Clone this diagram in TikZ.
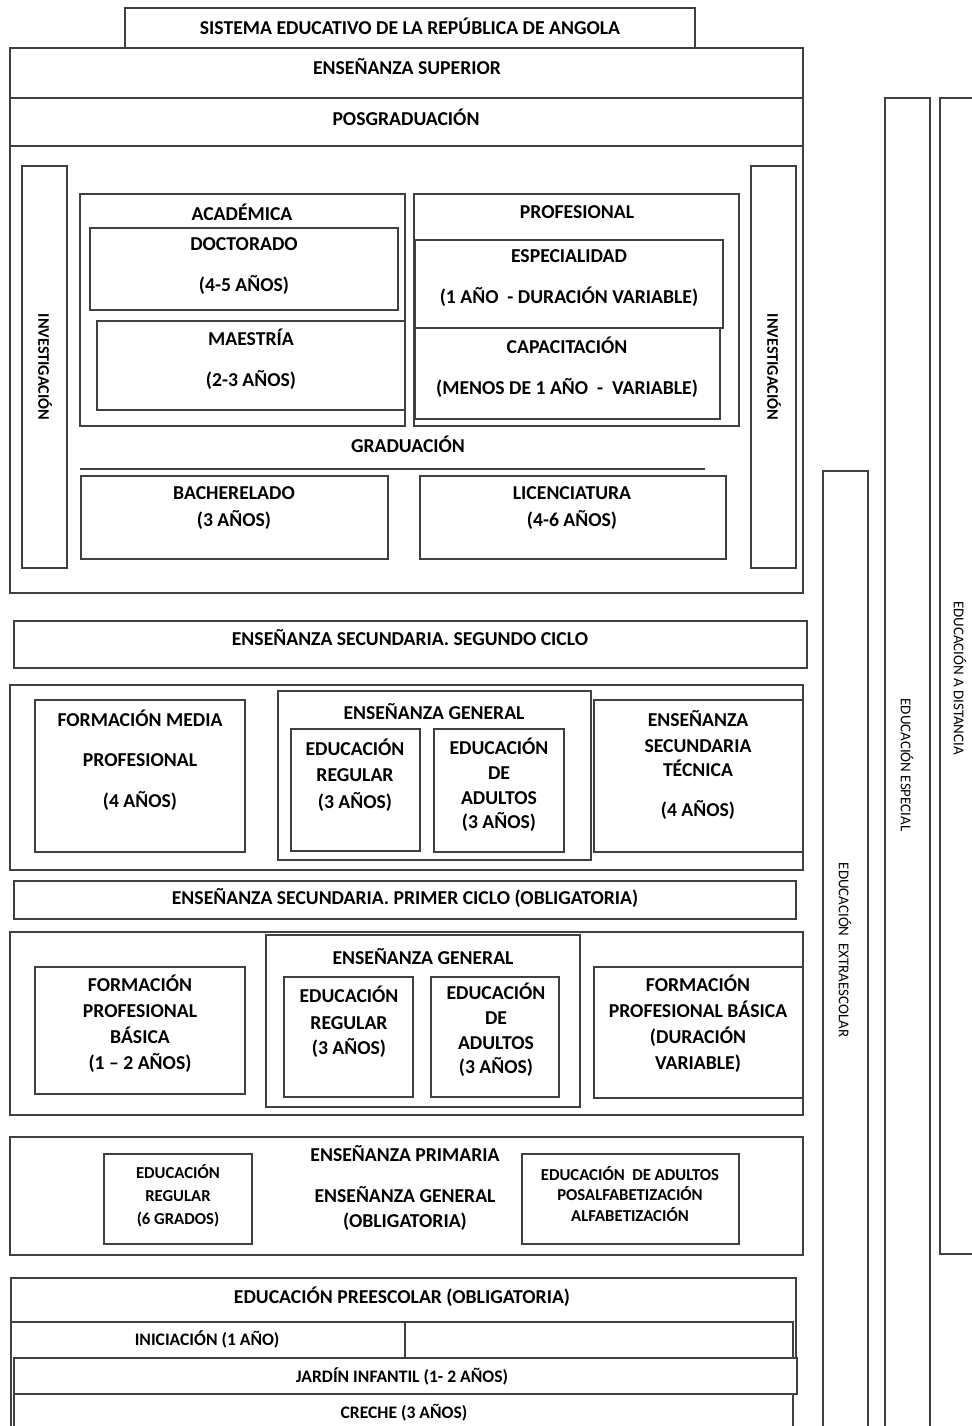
\documentclass[tikz,border=0pt]{standalone}
\usepackage{fontspec}
\setmainfont{Carlito}

\begin{document}
\begin{tikzpicture}[
    x=0.02cm, y=-0.02cm,
    box/.style={draw=black!75, line width=0.75pt},
    txt/.style={font=\bfseries\fontsize{11.2}{13}\selectfont, align=center, inner sep=0pt},
    smalltxt/.style={font=\bfseries\fontsize{9.5}{11}\selectfont, align=center, inner sep=0pt},
    rowtxt/.style={font=\bfseries\fontsize{10}{12}\selectfont, inner sep=0pt},
    vtxt/.style={font=\bfseries\fontsize{9.2}{11}\selectfont, rotate=-90, inner sep=0pt},
    sidetxt/.style={font=\fontsize{8.5}{10}\selectfont, rotate=-90, inner sep=0pt}
]
\useasboundingbox (0,0) rectangle (972,1426);

% Enseñanza superior
\draw[box] (125,8) rectangle (695,48);
\draw[box] (10,48) rectangle (803,98);
\draw[box] (10,98) rectangle (803,146);
\draw[box] (10,146) rectangle (803,593);
\draw[box] (22,166) rectangle (67,568);
\draw[box] (751,166) rectangle (796,568);
\draw[box] (80,194) rectangle (405,426);
\draw[box] (90,228) rectangle (398,310);
\draw[box] (97,321) rectangle (405,410);
\draw[box] (414,194) rectangle (739,426);
\draw[box] (415,240) rectangle (723,328);
\draw[box] (415,328) rectangle (720,419);
\draw[box] (80,469) -- (705,469);
\draw[box] (81,476) rectangle (388,559);
\draw[box] (420,476) rectangle (726,559);

\node[txt] (sistema) at (410,26) {SISTEMA EDUCATIVO DE LA REPÚBLICA DE ANGOLA};
\node[txt] (superior) at (407,67) {ENSEÑANZA SUPERIOR};
\node[txt] (posgrado) at (406,117) {POSGRADUACIÓN};
\node[vtxt] (invizq) at (45,367) {INVESTIGACIÓN};
\node[vtxt] (invder) at (774,367) {INVESTIGACIÓN};
\node[txt] (academica) at (242,212) {ACADÉMICA};
\node[txt] (profesional) at (577,212) {PROFESIONAL};
\node[txt] (doctorado) at (244,266) {DOCTORADO\\[10.2pt](4-5 AÑOS)};
\node[txt] (maestria) at (251,359) {MAESTRÍA\\[10.2pt](2-3 AÑOS)};
\node[txt] (especialidad) at (569,278) {ESPECIALIDAD\\[10.2pt](1 AÑO \ - DURACIÓN VARIABLE)};
\node[txt] (capacitacion) at (567,367) {CAPACITACIÓN\\[10.2pt](MENOS DE 1 AÑO \ - \ VARIABLE)};
\node[txt] (graduacion) at (408,444) {GRADUACIÓN};
\node[txt] (bacharelado) at (234,508) {BACHERELADO\\[2.3pt](3 AÑOS)};
\node[txt] (licenciatura) at (572,508) {LICENCIATURA\\[2.3pt](4-6 AÑOS)};

% Enseñanza secundaria, segundo ciclo
\draw[box] (14,621) rectangle (807,668);
\draw[box] (10,685) rectangle (803,870);
\draw[box] (35,700) rectangle (245,852);
\draw[box] (278,691) rectangle (591,860);
\draw[box] (291,729) rectangle (420,851);
\draw[box] (434,729) rectangle (564,852);
\draw[box] (594,700) rectangle (803,852);

\node[txt] (segundo) at (410,638) {ENSEÑANZA SECUNDARIA. SEGUNDO CICLO};
\node[txt] (mediaprof) at (140,760) {FORMACIÓN MEDIA\\[10.2pt]PROFESIONAL\\[10.2pt](4 AÑOS)};
\node[txt] (general2) at (434,712) {ENSEÑANZA GENERAL};
\node[txt] (regular2) at (355,775) {EDUCACIÓN\\[2pt]REGULAR\\[2pt](3 AÑOS)};
\node[txt] (adultos2) at (499,785) {EDUCACIÓN\\[1pt]DE\\[1pt]ADULTOS\\[1pt](3 AÑOS)};
\node[txt] (tecnica) at (698,765) {ENSEÑANZA\\[1.7pt]SECUNDARIA\\[0.6pt]TÉCNICA\\[10.2pt](4 AÑOS)};

% Enseñanza secundaria, primer ciclo
\draw[box] (14,881) rectangle (796,919);
\draw[box] (10,932) rectangle (803,1115);
\draw[box] (35,967) rectangle (245,1094);
\draw[box] (266,935) rectangle (580,1107);
\draw[box] (284,977) rectangle (413,1097);
\draw[box] (431,977) rectangle (559,1097);
\draw[box] (594,967) rectangle (803,1098);

\node[txt] (primer) at (405,898) {ENSEÑANZA SECUNDARIA. PRIMER CICLO (OBLIGATORIA)};
\node[txt] (basica1) at (140,1024) {FORMACIÓN\\[1.8pt]PROFESIONAL\\[1.8pt]BÁSICA\\[1.8pt](1 – 2 AÑOS)};
\node[txt] (general1) at (423,957) {ENSEÑANZA GENERAL};
\node[txt] (regular1) at (349,1022) {EDUCACIÓN\\[2.3pt]REGULAR\\[1.2pt](3 AÑOS)};
\node[txt] (adultos1) at (496,1030) {EDUCACIÓN\\[1pt]DE\\[1pt]ADULTOS\\[1pt](3 AÑOS)};
\node[txt] (basica2) at (698,1024) {FORMACIÓN\\[1.8pt]PROFESIONAL BÁSICA\\[1.8pt](DURACIÓN\\[1.8pt]VARIABLE)};

% Enseñanza primaria
\draw[box] (10,1137) rectangle (803,1255);
\draw[box] (104,1154) rectangle (252,1244);
\draw[box] (522,1154) rectangle (739,1244);

\node[txt] (primaria) at (405,1154) {ENSEÑANZA PRIMARIA};
\node[txt] (generalp) at (405,1208) {ENSEÑANZA GENERAL\\[1.2pt](OBLIGATORIA)};
\node[smalltxt] (regularp) at (178,1196) {EDUCACIÓN\\[2pt]REGULAR\\[2pt](6 GRADOS)};
\node[smalltxt] (adultosp) at (630,1194) {EDUCACIÓN \ DE ADULTOS\\[0.9pt]POSALFABETIZACIÓN\\[0.9pt]ALFABETIZACIÓN};

% Educación preescolar
\draw[box] (11,1426) -- (11,1278) -- (796,1278) -- (796,1358);
\draw[box] (11,1322) -- (793,1322) -- (793,1358);
\draw[box] (405,1322) -- (405,1358);
\draw[box] (14,1358) rectangle (797,1394);
\draw[box] (14,1426) |- (793,1394) -- (793,1426);

\node[txt] (preescolar) at (402,1297) {EDUCACIÓN PREESCOLAR (OBLIGATORIA)};
\node[rowtxt] (iniciacion) at (207,1339) {INICIACIÓN (1 AÑO)};
\node[rowtxt] (jardin) at (402,1376) {JARDÍN INFANTIL (1- 2 AÑOS)};
\node[rowtxt] (creche) at (404,1413) {CRECHE (3 AÑOS)};

% Columnas laterales
\draw[box] (823,1426) |- (868,471) -- (868,1426);
\draw[box] (885,1426) |- (930,98) -- (930,1426);
\draw[box] (972,1254) -| (940,98) -- (972,98);

\node[sidetxt] (extraescolar) at (845,950) {EDUCACIÓN \ EXTRAESCOLAR};
\node[sidetxt] (especial) at (907,765) {EDUCACIÓN ESPECIAL};
\node[sidetxt] (distancia) at (960,678) {EDUCACIÓN A DISTANCIA};

\end{tikzpicture}
\end{document}
